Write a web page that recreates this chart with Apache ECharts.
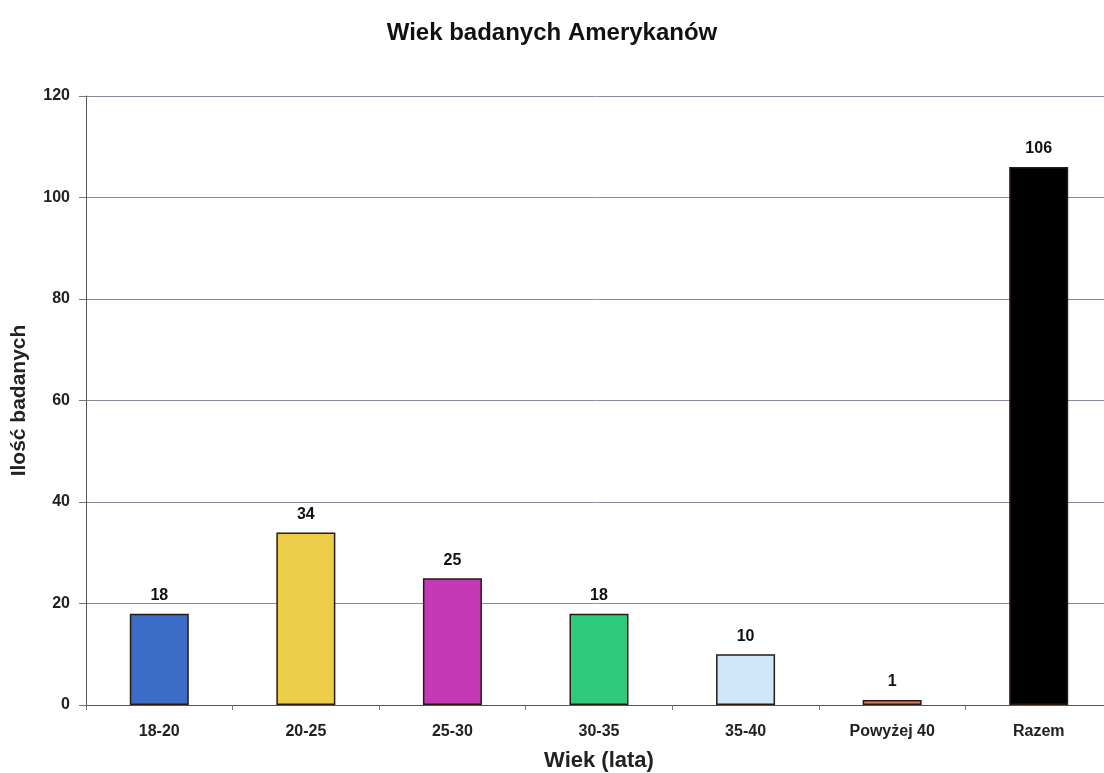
<!DOCTYPE html>
<html>
<head>
<meta charset="utf-8">
<script src="https://cdn.jsdelivr.net/npm/echarts@6/dist/echarts.min.js"></script>
<style>
  html, body { margin: 0; padding: 0; background: #fff; }
  #chart { width: 1104px; height: 773px; }
</style>
</head>
<body>
<div id="chart"></div>
<script>
var categories = ["18-20", "20-25", "25-30", "30-35", "35-40", "Powyżej 40", "Razem"];
var counts = [18, 34, 25, 18, 10, 1, 106];
var barColors = ["#3b6cc6", "#ebcd4a", "#c639b6", "#2fcb7c", "#cfe6f8", "#d87a66", "#000000"];

var font = "'Liberation Sans', Arial, sans-serif";

var chart = echarts.init(document.getElementById("chart"));
chart.setOption({
  backgroundColor: "#ffffff",
  animation: false,
  title: {
    text: "Wiek badanych Amerykanów",
    left: "center",
    top: 16,
    textStyle: { fontFamily: font, fontSize: 24, fontWeight: "bold", color: "#111" }
  },
  grid: { left: 86, top: 96, right: -8, bottom: 68, outerBoundsMode: "none" },
  xAxis: {
    type: "category",
    data: categories,
    name: "Wiek (lata)",
    nameLocation: "middle",
    nameGap: 45,
    nameTextStyle: { fontFamily: font, fontSize: 22, fontWeight: "bold", color: "#222" },
    axisLine: { lineStyle: { color: "#555", width: 1 } },
    axisTick: { show: true, length: 5, lineStyle: { color: "#777" } },
    axisLabel: { fontFamily: font, fontSize: 16, fontWeight: "bold", color: "#222", margin: 19, interval: 0 }
  },
  yAxis: {
    type: "value",
    min: 0,
    max: 120,
    interval: 20,
    name: "Ilość badanych",
    nameLocation: "middle",
    nameGap: 56,
    nameTextStyle: { fontFamily: font, fontSize: 21, fontWeight: "bold", color: "#222" },
    axisLine: { show: true, lineStyle: { color: "#555", width: 1 } },
    axisTick: { show: true, length: 7, lineStyle: { color: "#777" } },
    axisLabel: { fontFamily: font, fontSize: 16, fontWeight: "bold", color: "#222", margin: 16 },
    splitLine: { lineStyle: { color: "#8a8a9a", width: 1 } }
  },
  series: [
    {
      type: "bar",
      barWidth: 59,
      data: counts.map(function (v, i) {
        return { value: v, itemStyle: { color: barColors[i] } };
      }),
      itemStyle: { borderColor: "#2a1a10", borderWidth: 1.5 },
      label: {
        show: true,
        position: "top",
        distance: 10,
        fontFamily: font,
        fontSize: 16,
        fontWeight: "bold",
        color: "#111"
      }
    }
  ]
});
</script>
</body>
</html>
